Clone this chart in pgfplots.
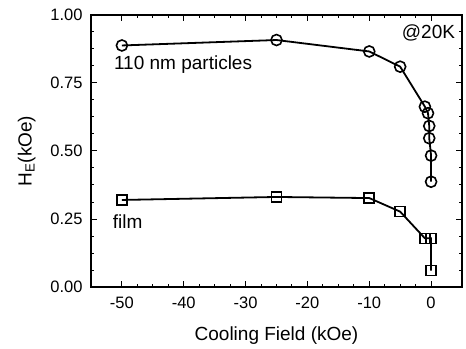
\documentclass[border=0pt]{standalone}
\usepackage{pgfplots}
\pgfplotsset{compat=1.18}
\usepackage{fontspec}
\setmainfont{Liberation Sans}
\begin{document}
\begin{tikzpicture}
\begin{axis}[
  scale only axis,
  width=371bp, height=272bp,
  xmin=-55, xmax=5, ymin=0, ymax=1,
  xtick={-50,-40,-30,-20,-10,0},
  ytick={0,0.25,0.5,0.75,1},
  minor x tick num=3,
  minor y tick num=3,
  tick align=inside,
  major tick length=6bp,
  minor tick length=3.5bp,
  axis line style={line width=1.6bp},
  every tick/.style={line width=1bp, black},
  yticklabel style={/pgf/number format/fixed, /pgf/number format/fixed zerofill, /pgf/number format/precision=2, xshift=-5bp},
  xticklabel style={yshift=-6bp},
  /pgf/number format/assume math mode=true,
  ticklabel style={font=\fontsize{16.5bp}{18bp}\selectfont},
  label style={font=\fontsize{19bp}{22bp}\selectfont},
  xlabel={Cooling Field (kOe)},
  ylabel={H$_\mathrm{E}$(kOe)},
  xlabel style={yshift=-12bp},
  ylabel style={yshift=8bp},
  clip=false,
]
\addplot[black, line width=1.8bp, mark=o, mark size=5.5bp, mark options={line width=1.6bp, fill=white}]
coordinates {(-50,0.888) (-25,0.908) (-10,0.866) (-5,0.81) (-1,0.663) (-0.5,0.639) (-0.3,0.592) (-0.3,0.547) (0,0.483) (0,0.387)};
\addplot[black, line width=1.8bp, mark=square, mark size=5bp, mark options={line width=1.6bp, fill=white}]
coordinates {(-50,0.32) (-25,0.331) (-10,0.327) (-5,0.277) (-1,0.179) (0,0.179) (0,0.06)};
\node[anchor=west, font=\fontsize{19bp}{22bp}\selectfont, inner sep=0pt] at (axis cs:-51.3,0.816) {110 nm particles};
\node[anchor=west, font=\fontsize{19bp}{22bp}\selectfont, inner sep=0pt] at (axis cs:-51.5,0.24) {film};
\node[anchor=east, font=\fontsize{19bp}{22bp}\selectfont, inner sep=0pt] at (axis cs:3.9,0.934) {@20K};
\end{axis}
\path ([shift={(-91bp,-62bp)}]current axis.south west) rectangle ([shift={(375bp,287bp)}]current axis.south west);
\end{tikzpicture}
\end{document}
